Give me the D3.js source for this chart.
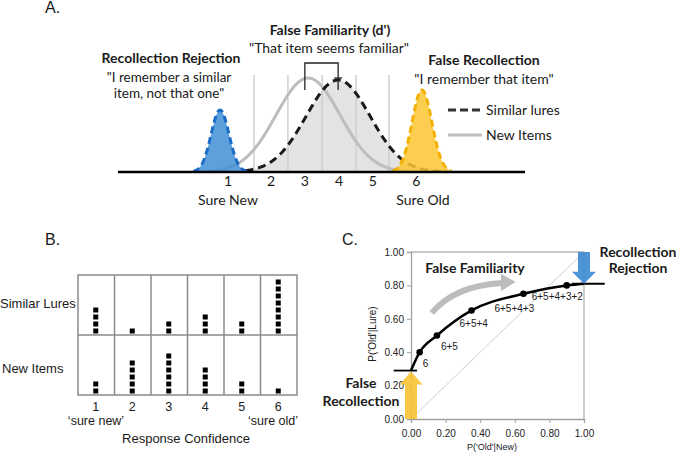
<!DOCTYPE html>
<html>
<head>
<meta charset="utf-8">
<script src="https://cdn.jsdelivr.net/npm/d3@7"></script>
<style>
  body { margin: 0; background: #fff; }
</style>
</head>
<body>
<script>
// ---- panel A : distributions (x in units of new-item sd, y in relative height)
var distNames = ["New Items", "Similar lures", "Recollection Rejection", "False Recollection"];
var distMean = [0, 0.94, -2.75, 3.56];
var distSd = [1, 1, 0.28, 0.31];
var distPeak = [0.94, 0.92, 0.62, 0.82];
var criteria = [-1.69, -0.63, 0.44, 1.5, 2.53];
var confLabels = ["1", "2", "3", "4", "5", "6"];
var confLabelX = [-2.5, -1.16, -0.1, 0.97, 2.02, 3.38];

// ---- panel B : response counts
var confLevels = [1, 2, 3, 4, 5, 6];
var rowNames = ["Similar Lures", "New Items"];
var lureCounts = [4, 1, 2, 3, 2, 8];
var newCounts = [2, 5, 6, 4, 2, 1];

// ---- panel C : ROC
var rocX = [0.05, 0.15, 0.35, 0.65, 0.90];
var rocY = [0.40, 0.50, 0.65, 0.75, 0.80];
var rocLabels = ["6", "6+5", "6+5+4", "6+5+4+3", "6+5+4+3+2"];
var rocStart = [0, 0.29];
var rocEnd = [1, 0.81];
var rocTicks = [0, 0.2, 0.4, 0.6, 0.8, 1.0];

var CAL = "Lato, 'Open Sans', sans-serif";
var ARI = "'Liberation Sans', Arial, sans-serif";

var svg = d3.select("body").append("svg")
    .attr("width", 676)
    .attr("height", 455);

function txt(g, x, y, s, o) {
    o = o || {};
    return g.append("text").attr("x", x).attr("y", y)
        .attr("font-family", o.fam || ARI)
        .attr("font-size", o.size || 13)
        .attr("font-weight", o.bold ? "bold" : "normal")
        .attr("text-anchor", o.anchor || "start")
        .attr("fill", o.fill || "#1a1a1a")
        .text(s);
}

// panel letters
txt(svg, 45, 13, "A.", { size: 16 });
txt(svg, 45, 245, "B.", { size: 16 });
txt(svg, 342, 245, "C.", { size: 16 });

// ================= PANEL A =================
var xA = d3.scaleLinear().domain([-5.94, 6.78]).range([118, 525]);
var yA = d3.scaleLinear().domain([0, 1]).range([172, 72]);

function gauss(i) {
    return function (x) {
        var z = (x - distMean[i]) / distSd[i];
        return distPeak[i] * Math.exp(-0.5 * z * z);
    };
}
function sampleDist(i, lo, hi) {
    var f = gauss(i);
    var a = distMean[i] + lo * distSd[i], b = distMean[i] + hi * distSd[i];
    return d3.range(a, b + 1e-9, (b - a) / 120).map(function (x) { return [x, f(x)]; });
}

var lineA = d3.line().x(function (d) { return xA(d[0]); }).y(function (d) { return yA(d[1]); });
var areaA = d3.area().x(function (d) { return xA(d[0]); }).y0(yA(0)).y1(function (d) { return yA(d[1]); });

var gA = svg.append("g");

// grey fill under the lure distribution
gA.append("path").datum(sampleDist(1, -3.0, 3.6))
    .attr("d", areaA).attr("fill", "#e3e3e3");

// criterion lines
gA.selectAll(".crit").data(criteria).enter().append("line")
    .attr("class", "crit")
    .attr("x1", function (d) { return xA(d); })
    .attr("x2", function (d) { return xA(d); })
    .attr("y1", yA(0.97)).attr("y2", yA(0))
    .attr("stroke", "#cfcfcf").attr("stroke-width", 1.5);

// new items
gA.append("path").datum(sampleDist(0, -3.2, 3.0))
    .attr("d", lineA).attr("fill", "none")
    .attr("stroke", "#bdbdbd").attr("stroke-width", 3);

// similar lures
gA.append("path").datum(sampleDist(1, -2.9, 3.4))
    .attr("d", lineA).attr("fill", "none")
    .attr("stroke", "#1a1a1a").attr("stroke-width", 3)
    .attr("stroke-dasharray", "8,5");

// recollection peaks
var peakFill = ["#3f8fd6", "#fbc531"];
var peakStroke = ["#1b6cc6", "#f2b000"];
[2, 3].forEach(function (i, k) {
    var pts = sampleDist(i, -3, 3);
    gA.append("path").datum(pts).attr("d", areaA)
        .attr("fill", peakFill[k]).attr("fill-opacity", 0.85);
    gA.append("path").datum(pts).attr("d", lineA)
        .attr("fill", "none").attr("stroke", peakStroke[k])
        .attr("stroke-width", 3).attr("stroke-dasharray", "7,4");
});

// baseline
gA.append("line").attr("x1", xA.range()[0]).attr("x2", xA.range()[1])
    .attr("y1", yA(0)).attr("y2", yA(0))
    .attr("stroke", "#000").attr("stroke-width", 2.5);

// d' bracket
var bTop = 63, bBot = 90;
gA.append("path")
    .attr("d", "M" + xA(distMean[0] - 0.1) + "," + bBot + "V" + bTop + "H" + xA(distMean[1]) + "V" + bBot)
    .attr("fill", "none").attr("stroke", "#222").attr("stroke-width", 1.3);
gA.append("line").attr("x1", xA(distMean[1]) - 4).attr("x2", xA(distMean[1]) + 4)
    .attr("y1", 78).attr("y2", 78).attr("stroke", "#222").attr("stroke-width", 1.3);

// confidence numbers
confLabels.forEach(function (d, i) {
    txt(gA, xA(confLabelX[i]), 186, d, { fam: CAL, size: 14, anchor: "middle" });
});
txt(gA, 228, 205, "Sure New", { fam: CAL, size: 14, anchor: "middle" });
txt(gA, 423, 205, "Sure Old", { fam: CAL, size: 14, anchor: "middle" });

// titles in A
function calText(x, y, s, bold, anchor, size) {
    return txt(gA, x, y, s, { fam: CAL, size: size || 14, bold: bold, anchor: anchor || "middle" });
}
calText(330, 35, "False Familiarity (d')", true);
calText(329, 53, "\"That item seems familiar\"", false);
calText(171, 63, "Recollection Rejection", true);
calText(169, 82, "\"I remember a similar", false, "middle", 13.5);
calText(169, 97.5, "item, not that one\"", false, "middle", 13.5);
calText(484, 65, "False Recollection", true);
calText(484, 84, "\"I remember that item\"", false);

// legend
gA.append("line").attr("x1", 448).attr("x2", 482).attr("y1", 110).attr("y2", 110)
    .attr("stroke", "#333").attr("stroke-width", 3).attr("stroke-dasharray", "8,4");
gA.append("line").attr("x1", 448).attr("x2", 482).attr("y1", 135).attr("y2", 135)
    .attr("stroke", "#bdbdbd").attr("stroke-width", 3);
calText(486, 115, distNames[1], false, "start");
calText(486, 140, distNames[0], false, "start");

// ================= PANEL B =================
var xB = d3.scaleBand().domain(confLevels).range([78, 297]);
var yB = d3.scaleBand().domain(rowNames).range([275, 395]);
var gB = svg.append("g");

gB.append("rect").attr("x", 78).attr("y", 275).attr("width", 219).attr("height", 120)
    .attr("fill", "none").attr("stroke", "#8a8a8a").attr("stroke-width", 1.5);
gB.selectAll(".vdiv").data(confLevels.slice(1)).enter().append("line")
    .attr("x1", function (d) { return xB(d); }).attr("x2", function (d) { return xB(d); })
    .attr("y1", 275).attr("y2", 395).attr("stroke", "#8a8a8a").attr("stroke-width", 1.5);
gB.append("line").attr("x1", 78).attr("x2", 297)
    .attr("y1", yB(rowNames[1])).attr("y2", yB(rowNames[1]))
    .attr("stroke", "#8a8a8a").attr("stroke-width", 1.5);

var squares = [];
[lureCounts, newCounts].forEach(function (counts, r) {
    counts.forEach(function (n, c) {
        for (var k = 0; k < n; k++) squares.push({ row: rowNames[r], col: confLevels[c], k: k });
    });
});
var sq = 5, step = 7;
gB.selectAll(".sq").data(squares).enter().append("rect")
    .attr("x", function (d) { return xB(d.col) + xB.bandwidth() / 2 - sq / 2 - 0.5; })
    .attr("y", function (d) { return yB(d.row) + yB.bandwidth() - 4 - sq / 2 - d.k * step; })
    .attr("width", sq).attr("height", sq).attr("fill", "#000");

txt(gB, 0, 308, rowNames[0], { size: 13 });
txt(gB, 2, 373, rowNames[1], { size: 13 });
confLevels.forEach(function (d) {
    txt(gB, xB(d) + xB.bandwidth() / 2 - 0.5, 411, d, { size: 12.5, anchor: "middle" });
});
txt(gB, 96, 425, "\u2018sure new\u2019", { size: 12.5, anchor: "middle" });
txt(gB, 273, 425, "\u2018sure old\u2019", { size: 12.5, anchor: "middle" });
txt(gB, 186, 443, "Response Confidence", { size: 13, anchor: "middle" });

// ================= PANEL C =================
var xC = d3.scaleLinear().domain([0, 1]).range([411, 584]);
var yC = d3.scaleLinear().domain([0, 1]).range([419, 252]);
var gC = svg.append("g");

// box
gC.append("path")
    .attr("d", "M" + xC(0) + "," + yC(1) + "H" + xC(1) + "V" + yC(0))
    .attr("fill", "none").attr("stroke", "#b5b5b5").attr("stroke-width", 1.3);
// chance diagonal
gC.append("line").attr("x1", xC(0)).attr("y1", yC(0)).attr("x2", xC(1)).attr("y2", yC(1))
    .attr("stroke", "#cfcfcf").attr("stroke-width", 1);

var axL = gC.append("g").attr("transform", "translate(" + xC(0) + ",0)")
    .call(d3.axisLeft(yC).tickValues(rocTicks).tickFormat(d3.format(".2f")).tickSize(4));
var axB = gC.append("g").attr("transform", "translate(0," + yC(0) + ")")
    .call(d3.axisBottom(xC).tickValues(rocTicks).tickFormat(d3.format(".2f")).tickSize(4));
[axL, axB].forEach(function (ax) {
    ax.attr("font-family", ARI).attr("font-size", 10);
    ax.select(".domain").attr("stroke", "#a0a0a0").attr("stroke-width", 1.3);
    ax.selectAll(".tick line").attr("stroke", "#a0a0a0");
    ax.selectAll("text").attr("fill", "#222");
});
axB.selectAll("text").attr("dy", "1.1em");

txt(gC, 492, 450, "P('Old'|New)", { size: 9, anchor: "middle" });
txt(gC, 0, 0, "P('Old'|Lure)", { size: 10, anchor: "middle" })
    .attr("transform", "translate(376,334) rotate(-90)");

// ROC curve
var rocAll = [rocStart].concat(rocX.map(function (x, i) { return [x, rocY[i]]; })).concat([rocEnd]);
gC.append("path").datum(rocAll)
    .attr("d", d3.line().x(function (d) { return xC(d[0]); }).y(function (d) { return yC(d[1]); })
        .curve(d3.curveMonotoneX))
    .attr("fill", "none").attr("stroke", "#000").attr("stroke-width", 2.5);
// horizontal intercept lines
gC.append("line").attr("x1", xC(-0.1)).attr("x2", xC(0.035))
    .attr("y1", yC(rocStart[1])).attr("y2", yC(rocStart[1])).attr("stroke", "#000").attr("stroke-width", 1.8);
gC.append("line").attr("x1", xC(0.93)).attr("x2", xC(1.12))
    .attr("y1", yC(rocEnd[1])).attr("y2", yC(rocEnd[1])).attr("stroke", "#000").attr("stroke-width", 1.8);

gC.selectAll(".pt").data(rocX).enter().append("circle")
    .attr("cx", function (d) { return xC(d); })
    .attr("cy", function (d, i) { return yC(rocY[i]); })
    .attr("r", 3.3).attr("fill", "#000");

var labelDx = [3, 4, -12, -29, -35], labelDy = [15, 14, 17, 18, 15];
rocLabels.forEach(function (d, i) {
    txt(gC, xC(rocX[i]) + labelDx[i], yC(rocY[i]) + labelDy[i], d, { size: 10 });
});

// block arrows
function blockArrow(cx, yFrom, yTo, shaftW, headW, headL, color) {
    var dir = yTo < yFrom ? -1 : 1;
    var yh = yTo - dir * headL;
    var p = [[cx - shaftW / 2, yFrom], [cx - shaftW / 2, yh], [cx - headW / 2, yh], [cx, yTo],
             [cx + headW / 2, yh], [cx + shaftW / 2, yh], [cx + shaftW / 2, yFrom]];
    gC.append("path").attr("d", "M" + p.join("L") + "Z").attr("fill", color).attr("fill-opacity", 0.9);
}
blockArrow(xC(0), yC(0), yC(rocStart[1]) + 1, 12, 23, 13, "#f8c232");
blockArrow(xC(1), yC(1), yC(rocEnd[1]), 12, 24, 12, "#3a8ad2");

// grey curved arrow
var a0 = [xC(0.12), yC(0.635)], ac = [xC(0.25), yC(0.80)], a1 = [xC(0.53), yC(0.815)];
gC.append("path")
    .attr("d", "M" + a0 + "Q" + ac + " " + a1)
    .attr("fill", "none").attr("stroke", "#bdbdbd").attr("stroke-width", 6);
gC.append("path")
    .attr("d", "M" + [xC(0.52), yC(0.87)] + "L" + [xC(0.605), yC(0.82)] + "L" + [xC(0.52), yC(0.765)] + "Z")
    .attr("fill", "#bdbdbd");

// C annotations
function calC(x, y, s) {
    txt(gC, x, y, s, { fam: CAL, size: 14, bold: true, anchor: "middle" });
}
calC(475, 273, "False Familiarity");
calC(638, 257, "Recollection");
calC(638, 273, "Rejection");
calC(361, 388, "False");
calC(361, 406, "Recollection");
</script>
</body>
</html>
